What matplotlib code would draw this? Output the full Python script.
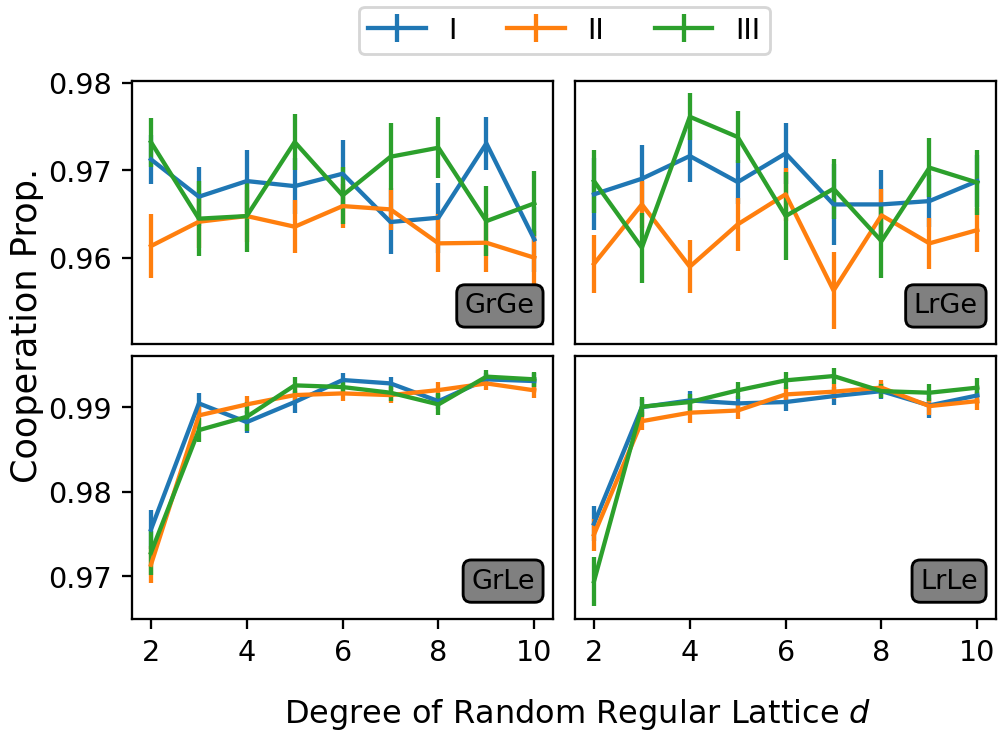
import matplotlib
matplotlib.use("Agg")
import matplotlib.pyplot as plt

degrees = [2, 3, 4, 5, 6, 7, 8, 9, 10]
series_names = ["I", "II", "III"]
panel_names = ["GrGe", "LrGe", "GrLe", "LrLe"]

# GrGe (top left)
grge_mean = {
    "I": [0.97126, 0.96699, 0.96878, 0.96820, 0.96962, 0.96410, 0.96459, 0.97309, 0.96211],
    "II": [0.96135, 0.96413, 0.96478, 0.96356, 0.96592, 0.96554, 0.96166, 0.96173, 0.96002],
    "III": [0.97324, 0.96448, 0.96478, 0.97324, 0.96714, 0.97156, 0.97259, 0.96420, 0.96623],
}
grge_err = {
    "I": [0.0028, 0.0034, 0.0036, 0.0032, 0.0039, 0.0037, 0.0040, 0.0030, 0.0037],
    "II": [0.0037, 0.0030, 0.0030, 0.0030, 0.0025, 0.0024, 0.0033, 0.0033, 0.0030],
    "III": [0.0028, 0.0043, 0.0041, 0.0032, 0.0033, 0.0038, 0.0035, 0.0040, 0.0037],
}

# LrGe (top right)
lrge_mean = {
    "I": [0.96726, 0.96905, 0.97164, 0.96866, 0.97194, 0.96611, 0.96611, 0.96649, 0.96878],
    "II": [0.95931, 0.96611, 0.95899, 0.96383, 0.96726, 0.95627, 0.96486, 0.96166, 0.96318],
    "III": [0.96878, 0.96116, 0.97613, 0.97381, 0.96478, 0.96790, 0.96192, 0.97031, 0.96860],
}
lrge_err = {
    "I": [0.0041, 0.0038, 0.0030, 0.0025, 0.0035, 0.0046, 0.0039, 0.0030, 0.0030],
    "II": [0.0033, 0.0027, 0.0030, 0.0030, 0.0030, 0.0044, 0.0030, 0.0029, 0.0025],
    "III": [0.0036, 0.0040, 0.0027, 0.0030, 0.0050, 0.0034, 0.0042, 0.0034, 0.0037],
}

# GrLe (bottom left)
grle_mean = {
    "I": [0.97553, 0.99044, 0.98823, 0.99060, 0.99320, 0.99280, 0.99070, 0.99328, 0.99308],
    "II": [0.97138, 0.98902, 0.99032, 0.99142, 0.99162, 0.99142, 0.99201, 0.99280, 0.99198],
    "III": [0.97280, 0.98728, 0.98886, 0.99257, 0.99237, 0.99170, 0.99032, 0.99360, 0.99328],
}
grle_err = {
    "I": [0.0023, 0.0012, 0.0013, 0.0013, 0.0008, 0.0008, 0.0009, 0.0008, 0.0009],
    "II": [0.0022, 0.0011, 0.0010, 0.0009, 0.0009, 0.0009, 0.0009, 0.0008, 0.0009],
    "III": [0.0026, 0.0014, 0.0017, 0.0010, 0.0009, 0.0010, 0.0013, 0.0008, 0.0009],
}

# LrLe (bottom right)
lrle_mean = {
    "I": [0.97624, 0.99000, 0.99079, 0.99044, 0.99060, 0.99130, 0.99189, 0.99020, 0.99138],
    "II": [0.97494, 0.98834, 0.98934, 0.98960, 0.99150, 0.99182, 0.99230, 0.99012, 0.99071],
    "III": [0.96941, 0.99005, 0.99060, 0.99198, 0.99316, 0.99367, 0.99189, 0.99170, 0.99230],
}
lrle_err = {
    "I": [0.0021, 0.0010, 0.0011, 0.0009, 0.0011, 0.0011, 0.0009, 0.0015, 0.0010],
    "II": [0.0019, 0.0011, 0.0012, 0.0010, 0.0009, 0.0009, 0.0009, 0.0010, 0.0011],
    "III": [0.0029, 0.0012, 0.0010, 0.0010, 0.0010, 0.0009, 0.0008, 0.0010, 0.0011],
}


def main():
    dpi = 206
    fig, axes = plt.subplots(2, 2, figsize=(1000.5 / dpi, 735.5 / dpi), dpi=dpi)
    fig.subplots_adjust(left=0.1317, right=0.996, top=0.889, bottom=0.158,
                        wspace=0.0506, hspace=0.0484)

    panels = [
        (axes[0, 0], grge_mean, grge_err),
        (axes[0, 1], lrge_mean, lrge_err),
        (axes[1, 0], grle_mean, grle_err),
        (axes[1, 1], lrle_mean, lrle_err),
    ]

    handles = []
    for k, (ax, means, errs) in enumerate(panels):
        for name in series_names:
            h = ax.errorbar(degrees, means[name], yerr=errs[name], label=name)
            if k == 0:
                handles.append(h)
        ax.text(0.956, 0.094, panel_names[k], transform=ax.transAxes,
                ha="right", va="bottom", fontsize=9.5,
                bbox=dict(boxstyle="round", facecolor="gray", edgecolor="black"))

    for ax in axes[0]:
        ax.set_ylim(0.9502, 0.9802)
        ax.set_xticks([])
    for ax in axes[1]:
        ax.set_ylim(0.965, 0.996)
        ax.set_xticks([2, 4, 6, 8, 10])
    for ax in axes[:, 1]:
        ax.set_yticks([])
    axes[0, 0].set_yticks([0.96, 0.97, 0.98])
    axes[1, 0].set_yticks([0.97, 0.98, 0.99])
    for ax in axes.flat:
        ax.set_xlim(1.6, 10.4)

    fig.legend(handles, series_names, loc="upper center", ncol=3,
               bbox_to_anchor=(0.564, 1.0), borderaxespad=0.25,
               borderpad=0.33, columnspacing=1.77)
    fig.text(0.027, 0.558, "Cooperation Prop.", rotation=90,
             ha="center", va="center", fontsize=12.3)
    fig.text(0.5775, 0.029, "Degree of Random Regular Lattice $d$",
             ha="center", va="center", fontsize=11.2)

    fig.savefig("out.png", dpi=dpi)


if __name__ == "__main__":
    main()
